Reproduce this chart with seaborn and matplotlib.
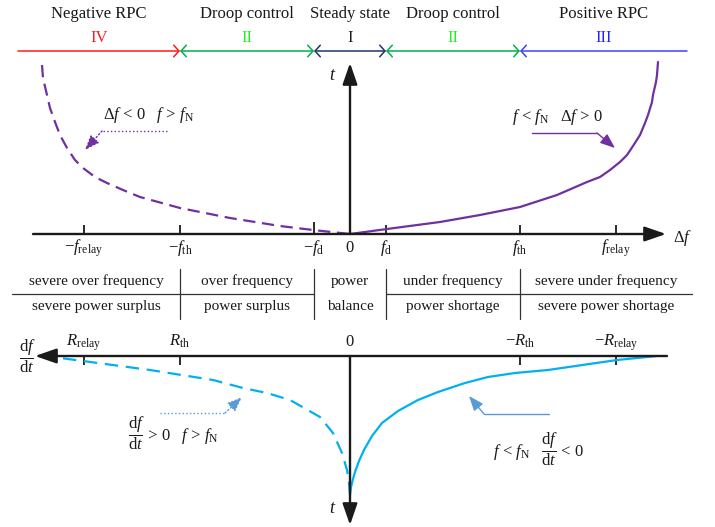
import matplotlib
matplotlib.use("Agg")
import matplotlib.pyplot as plt
import seaborn as sns

# ---- thresholds (frequency deviation and rate of change of frequency) ----
f_d, f_th, f_relay = 36, 170, 266
R_th, R_relay = 170, 266

# ---- control stages along the top ----
stage_names = ["Negative RPC", "Droop control", "Steady state", "Droop control", "Positive RPC"]
stage_numerals = ["IV", "II", "I", "II", "III"]

# ---- operating-state table ----
row_upper = ["severe over frequency", "over frequency", "power", "under frequency", "severe under frequency"]
row_lower = ["severe power surplus", "power surplus", "balance", "power shortage", "severe power shortage"]

# ---- Δf versus t ----
pos_df = [0, 37, 90, 130, 170, 207, 237, 250, 260, 270, 277, 283, 290, 295, 298, 302,
          303, 306, 307, 308]
pos_t = [0, 5, 12, 19, 27, 39, 52, 57, 64, 72, 79, 88, 99, 111, 119, 132,
         139, 152, 159, 172]
neg_df = [-308, -307, -303, -300, -295, -290, -283, -275, -267, -255, -243, -227, -210,
          -170, -120, -70, -37, 0]
neg_t = [169, 156, 139, 126, 112, 99, 86, 74, 66, 57, 51, 44, 37,
         26, 16, 8, 4, 0]

# ---- df/dt versus t ----
fall_rate = [0, -1, -3, -5, -9, -14, -22, -32, -48, -68, -88, -115, -138, -165, -198,
             -267, -307]
fall_t = [139, 131, 123, 116, 105, 94, 80, 67, 55, 44, 36, 27, 21, 17, 14, 4, 0]
rise_rate = [0, 1, 3, 8, 17, 30, 60, 83, 107, 137, 200, 297, 305]
rise_t = [139, 127, 114, 97, 77, 61, 44, 37, 32, 24, 14, 1, 0]

sns.set_theme(style="white")
plt.rcParams["font.family"] = ["Liberation Serif", "DejaVu Serif"]
plt.rcParams["mathtext.fontset"] = "custom"
plt.rcParams["mathtext.rm"] = "Liberation Serif"
plt.rcParams["mathtext.it"] = "Liberation Serif:italic"
plt.rcParams["mathtext.bf"] = "Liberation Serif:bold"

PURPLE = "#7030a0"
CYAN = "#00b0f0"
ARROW_BLUE = "#5b9bd5"

fig = plt.figure(figsize=(7.15, 5.27), dpi=100)
# upper panel: x = Δf, y = t (upwards)
ax = fig.add_axes([0, 0, 1, 1])
ax.set_xlim(-350, 365)
ax.set_ylim(-293, 234)
ax.axis("off")
# lower panel: x = df/dt (reversed), y = t (downwards)
axl = fig.add_axes([0, 0, 1, 1])
axl.set_xlim(350, -365)
axl.set_ylim(171, -356)
axl.axis("off")
axl.patch.set_alpha(0)

AX_LW = 1.7
TXT = "#1a1a1a"

# ---------------- stage bar ----------------
bar_t = 183
edges = [-332, -f_th, -f_d, f_d, f_th, 337]
seg_colors = ["#ff1a1a", "#00b050", "#1f3864", "#00b050", "#3f3fff"]
numeral_colors = ["#ff1a1a", "#22ee22", TXT, "#22ee22", "#2222ff"]
styles = ["->", "<->", "<->", "<->", "<-"]
for i in range(5):
    ax.annotate("", xy=(edges[i + 1], bar_t), xytext=(edges[i], bar_t),
                arrowprops=dict(arrowstyle=styles[i] + ",head_length=0.38,head_width=0.42",
                                color=seg_colors[i], lw=1.1, shrinkA=0, shrinkB=0,
                                mutation_scale=10))
    cx = (edges[i] + edges[i + 1]) / 2
    ax.text(cx, 216, stage_names[i], ha="center", va="baseline", fontsize=12, color=TXT)
    ax.text(cx, 192, stage_numerals[i], ha="center", va="baseline", fontsize=12,
            color=numeral_colors[i])

# ---------------- upper axes ----------------
ax.annotate("", xy=(316, 0), xytext=(-317, 0),
            arrowprops=dict(arrowstyle="-|>,head_length=1.3,head_width=0.45", color="k",
                            lw=AX_LW, shrinkA=0, shrinkB=0, mutation_scale=10))
ax.annotate("", xy=(0, 171), xytext=(0, 0),
            arrowprops=dict(arrowstyle="-|>,head_length=1.3,head_width=0.45", color="k",
                            lw=AX_LW, shrinkA=0, shrinkB=0, mutation_scale=10))
ax.text(323, -8, r"$\Delta f$", ha="left", va="baseline", fontsize=12, color=TXT)
ax.text(-17, 154, r"$t$", ha="center", va="baseline", fontsize=13, color=TXT)

up_ticks = [-f_relay, -f_th, -f_d, f_d, f_th, f_relay]
up_labels = [r"$-f_{\mathrm{relay}}$", r"$-f_{\mathrm{th}}$", r"$-f_{\mathrm{d}}$",
             r"$f_{\mathrm{d}}$", r"$f_{\mathrm{th}}$", r"$f_{\mathrm{relay}}$"]
for xv, lab in zip(up_ticks, up_labels):
    h = 12 if xv == -f_d else 9
    ax.plot([xv, xv], [0, h], color="k", lw=1.3, solid_capstyle="butt")
    ax.text(xv, -18, lab, ha="center", va="baseline", fontsize=12, color=TXT)
ax.text(0, -18, "0", ha="center", va="baseline", fontsize=12, color=TXT)

sns.lineplot(x=pos_df, y=pos_t, ax=ax, color=PURPLE, lw=1.6, sort=False, estimator=None)
sns.lineplot(x=neg_df, y=neg_t, ax=ax, color=PURPLE, lw=1.6, sort=False, estimator=None,
             linestyle=(0, (5.5, 3)))

# ---------------- table ----------------
col_edges = [-338, -f_th, -f_d, f_d, f_th, 342]
for i in range(5):
    cx = (col_edges[i] + col_edges[i + 1]) / 2
    ax.text(cx, -51, row_upper[i], ha="center", va="baseline", fontsize=11, color=TXT)
    ax.text(cx, -76, row_lower[i], ha="center", va="baseline", fontsize=11, color=TXT)
for xv in col_edges[1:-1]:
    ax.plot([xv, xv], [-35, -85], color="#333333", lw=0.9)
ax.plot([col_edges[0], -f_d], [-60, -60], color="#333333", lw=0.9)
ax.plot([f_d, col_edges[-1]], [-60, -60], color="#333333", lw=0.9)

# ---------------- lower axes ----------------
axl.annotate("", xy=(315, 0), xytext=(-317, 0),
             arrowprops=dict(arrowstyle="-|>,head_length=1.3,head_width=0.45", color="k",
                             lw=AX_LW, shrinkA=0, shrinkB=0, mutation_scale=10))
axl.annotate("", xy=(0, 169), xytext=(0, 0),
             arrowprops=dict(arrowstyle="-|>,head_length=1.3,head_width=0.45", color="k",
                             lw=AX_LW, shrinkA=0, shrinkB=0, mutation_scale=10))
axl.text(323, 0, r"$\dfrac{\mathrm{d}f}{\mathrm{d}t}$", ha="center", va="center",
         fontsize=12, color=TXT)
axl.text(17, 157, r"$t$", ha="center", va="baseline", fontsize=13, color=TXT)

low_ticks = [R_relay, R_th, -R_th, -R_relay]
low_labels = [r"$R_{\mathrm{relay}}$", r"$R_{\mathrm{th}}$", r"$-R_{\mathrm{th}}$",
              r"$-R_{\mathrm{relay}}$"]
for xv, lab in zip(low_ticks, low_labels):
    axl.plot([xv, xv], [0, 9], color="k", lw=1.3, solid_capstyle="butt")
    axl.text(xv, -10, lab, ha="center", va="baseline", fontsize=12, color=TXT)
axl.text(0, -10, "0", ha="center", va="baseline", fontsize=12, color=TXT)

sns.lineplot(x=fall_rate, y=fall_t, ax=axl, color=CYAN, lw=1.6, sort=False, estimator=None)
sns.lineplot(x=rise_rate, y=rise_t, ax=axl, color=CYAN, lw=1.6, sort=False, estimator=None,
             linestyle=(0, (6, 3.5)))

# ---------------- annotations ----------------
def callout(a, pts, color, ls):
    xs = [p[0] for p in pts[:-1]]
    ys = [p[1] for p in pts[:-1]]
    a.plot(xs, ys, color=color, lw=1.0, ls=ls)
    a.annotate("", xy=pts[-1], xytext=pts[-2],
               arrowprops=dict(arrowstyle="-|>,head_length=0.9,head_width=0.35",
                               color=color, lw=1.0, ls=ls, shrinkA=0, shrinkB=0,
                               mutation_scale=10))

ax.text(-247, 115, r"$\Delta f\,<\,0\quad f\,>\,f_{\mathrm{N}}$", ha="left",
        va="baseline", fontsize=12, color=TXT)
callout(ax, [(-183, 103), (-248, 103), (-265, 84)], PURPLE, ":")

ax.text(162, 113, r"$f\,<\,f_{\mathrm{N}}\quad \Delta f\,>\,0$", ha="left", va="baseline",
        fontsize=12, color=TXT)
callout(ax, [(182, 101), (247, 101), (265, 86)], PURPLE, "-")

axl.text(222, 77, r"$\dfrac{\mathrm{d}f}{\mathrm{d}t}\,>\,0\quad f\,>\,f_{\mathrm{N}}$",
         ha="left", va="center", fontsize=12, color=TXT)
callout(axl, [(190, 57), (125, 57), (108, 41)], ARROW_BLUE, ":")

axl.text(-143, 93, r"$f\,<\,f_{\mathrm{N}}\quad \dfrac{\mathrm{d}f}{\mathrm{d}t}\,<\,0$",
         ha="left", va="center", fontsize=12, color=TXT)
callout(axl, [(-199, 58), (-134, 58), (-119, 40)], ARROW_BLUE, "-")

fig.savefig("out.png", dpi=100, facecolor="white")
